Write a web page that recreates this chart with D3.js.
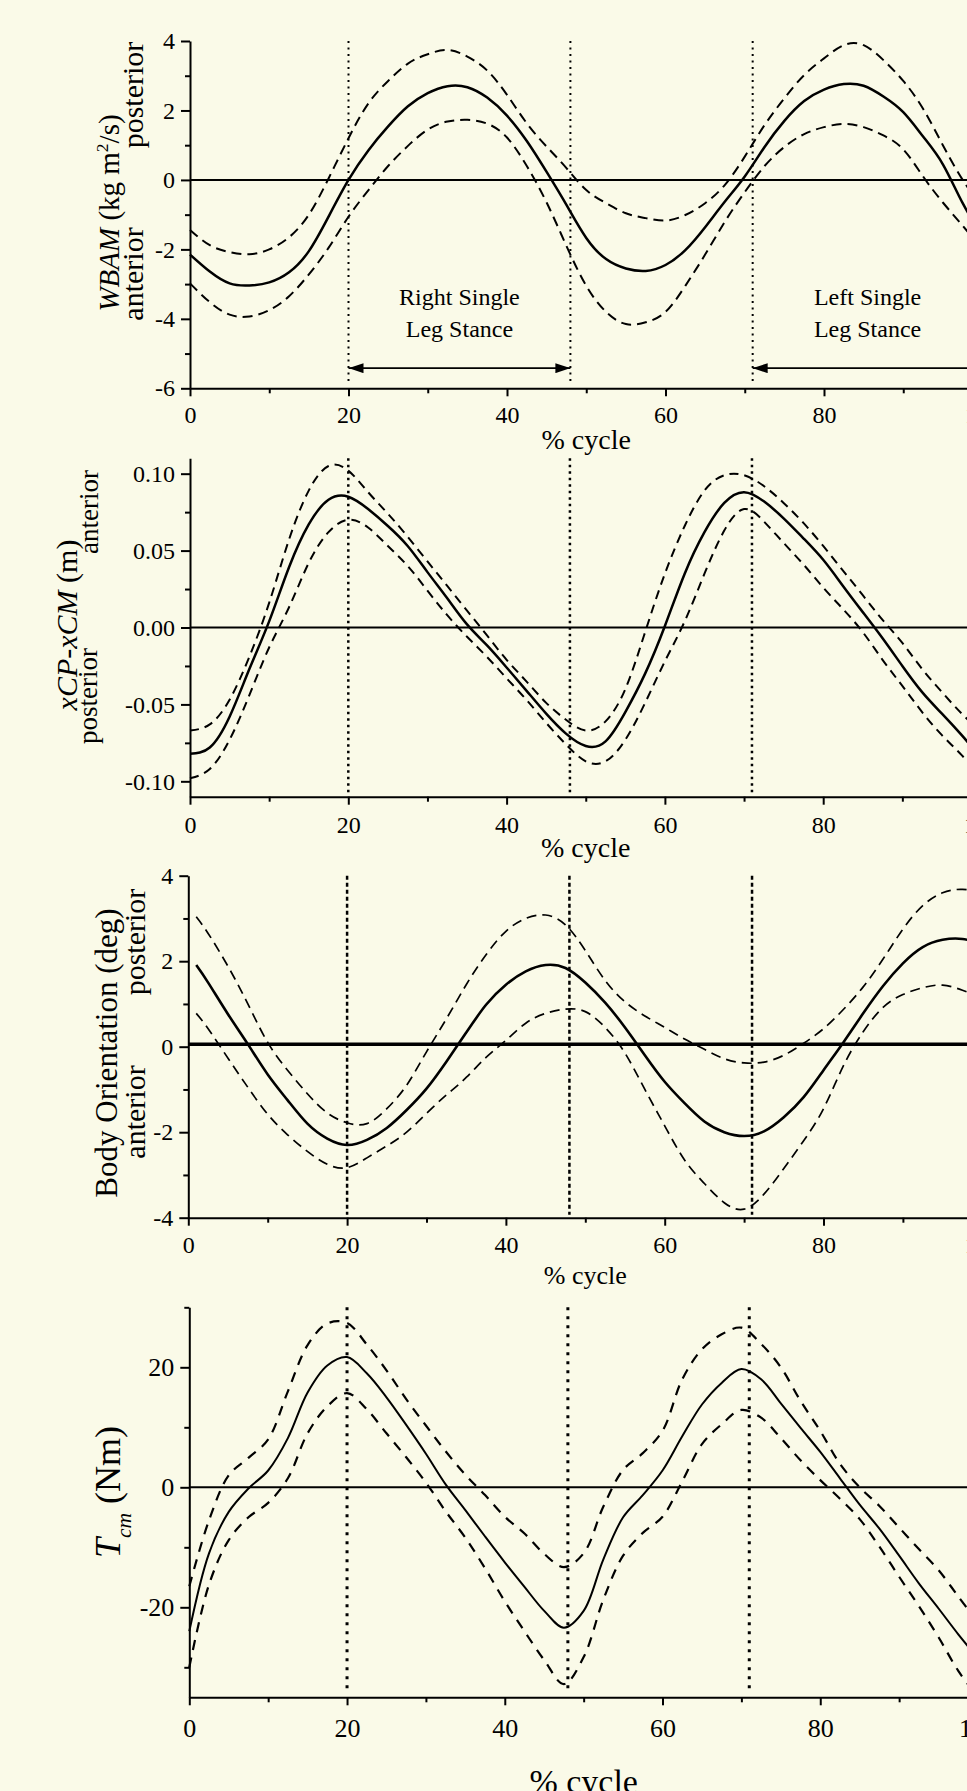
<!DOCTYPE html>
<html>
<head>
<meta charset="utf-8">
<title>Gait cycle: WBAM, xCP-xCM, body orientation, Tcm</title>
<script src="https://cdn.jsdelivr.net/npm/d3@7"></script>
<style>
  html, body { margin: 0; padding: 0; background: #fafae8; }
  svg { display: block; }
  text { font-family: "Liberation Serif", "Times New Roman", serif; fill: #000; }
</style>
</head>
<body>
<main></main>
<script>
// Data (x = % of gait cycle)
const cyclePct = [0, 2.5, 5, 7.5, 10, 12.5, 15, 17.5, 20, 22.5, 25, 27.5, 30, 32.5, 35, 37.5, 40, 42.5, 45, 47.5, 50,
    52.5, 55, 57.5, 60, 62.5, 65, 67.5, 70, 72.5, 75, 77.5, 80, 82.5, 85, 87.5, 90, 92.5, 95, 97.5, 100]
const orientCycle = [1, 2.5, 5, 7.5, 10, 12.5, 15, 17.5, 20, 22.5, 25, 27.5, 30, 32.5, 35, 37.5, 40, 42.5, 45, 47.5, 50,
    52.5, 55, 57.5, 60, 62.5, 65, 67.5, 70, 72.5, 75, 77.5, 80, 82.5, 85, 87.5, 90, 92.5, 95, 97.5, 100]

// WBAM (kg m2/s): mean, mean+SD, mean-SD
const wbamMean = [-2.15, -2.64, -2.98, -3.04, -2.95, -2.66, -2.05, -1.05, 0.0, 0.85, 1.54, 2.12, 2.5, 2.7, 2.67, 2.37, 1.85,
    1.12, 0.23, -0.72, -1.67, -2.28, -2.55, -2.62, -2.45, -2.02, -1.36, -0.62, 0.1, 0.95, 1.7, 2.27, 2.6, 2.76, 2.71,
    2.4, 1.95, 1.25, 0.45, -0.67, -1.6]
const wbamUpper = [-1.44, -1.88, -2.08, -2.14, -2.0, -1.65, -1.0, 0.05, 1.2, 2.2, 2.85, 3.35, 3.62, 3.74, 3.55, 3.15, 2.45,
    1.63, 0.96, 0.34, -0.29, -0.67, -0.96, -1.1, -1.17, -1.01, -0.67, -0.14, 0.67, 1.58, 2.35, 3.02, 3.5, 3.88, 3.88,
    3.45, 2.85, 2.05, 1.0, 0.0, -0.8]
const wbamLower = [-2.98, -3.52, -3.88, -3.93, -3.75, -3.35, -2.72, -1.95, -1.06, -0.3, 0.4, 0.98, 1.45, 1.68, 1.73, 1.62,
    1.22, 0.4, -0.65, -1.9, -3.05, -3.8, -4.15, -4.1, -3.8, -3.05, -2.15, -1.2, -0.35, 0.4, 0.95, 1.32, 1.52, 1.61, 1.52,
    1.28, 0.88, 0.1, -0.65, -1.32, -2.0]

// xCP - xCM (m)
const xcpMean = [-0.082, -0.078, -0.058, -0.027, 0.004, 0.039, 0.067, 0.083, 0.085, 0.077, 0.066, 0.053, 0.036, 0.019,
    0.002, -0.0115, -0.026, -0.041, -0.056, -0.069, -0.077, -0.074, -0.055, -0.030, 0.001, 0.035, 0.062, 0.081, 0.088,
    0.082, 0.071, 0.058, 0.044, 0.027, 0.010, -0.007, -0.025, -0.042, -0.056, -0.070, -0.085]
const xcpUpper = [-0.067, -0.063, -0.047, -0.019, 0.016, 0.057, 0.089, 0.105, 0.102, 0.088, 0.074, 0.059, 0.043, 0.027,
    0.011, -0.005, -0.021, -0.035, -0.049, -0.060, -0.067, -0.061, -0.040, -0.003, 0.035, 0.066, 0.089, 0.099, 0.099,
    0.092, 0.081, 0.068, 0.053, 0.037, 0.021, 0.005, -0.010, -0.027, -0.042, -0.056, -0.068]
const xcpLower = [-0.098, -0.092, -0.073, -0.044, -0.013, 0.013, 0.042, 0.062, 0.070, 0.065, 0.053, 0.040, 0.024, 0.008,
    -0.006, -0.019, -0.033, -0.047, -0.062, -0.076, -0.087, -0.087, -0.073, -0.049, -0.022, 0.004, 0.035, 0.063, 0.077,
    0.069, 0.055, 0.041, 0.026, 0.012, -0.003, -0.021, -0.038, -0.055, -0.070, -0.083, -0.098]

// Body orientation (deg)
const orientMean = [1.91, 1.5, 0.76, 0.06, -0.65, -1.25, -1.8, -2.15, -2.3, -2.18, -1.9, -1.48, -0.98, -0.35, 0.33, 0.98,
    1.45, 1.76, 1.91, 1.84, 1.5, 1.03, 0.45, -0.2, -0.82, -1.32, -1.75, -2.0, -2.09, -1.98, -1.65, -1.18, -0.55, 0.1, 0.78,
    1.42, 1.95, 2.33, 2.5, 2.52, 2.4]
const orientUpper = [3.04, 2.65, 1.88, 1.0, 0.1, -0.55, -1.1, -1.55, -1.78, -1.8, -1.45, -0.9, -0.12, 0.65, 1.45, 2.15,
    2.7, 3.0, 3.08, 2.85, 2.25, 1.55, 1.05, 0.72, 0.45, 0.18, -0.06, -0.28, -0.38, -0.36, -0.2, 0.08, 0.42, 0.87, 1.4,
    2.05, 2.75, 3.3, 3.6, 3.68, 3.6]
const orientLower = [0.78, 0.42, -0.27, -0.95, -1.58, -2.06, -2.45, -2.75, -2.83, -2.6, -2.32, -2.0, -1.56, -1.13, -0.72,
    -0.25, 0.15, 0.55, 0.78, 0.88, 0.82, 0.45, -0.15, -1.0, -1.85, -2.65, -3.2, -3.65, -3.8, -3.45, -2.85, -2.2, -1.45,
    -0.45, 0.35, 0.92, 1.22, 1.38, 1.44, 1.32, 1.15]

// Tcm (Nm)
const tcmMean = [-24, -11, -4.1, -0.2, 2.8, 8.2, 15.8, 20.3, 21.7, 19.0, 15.0, 10.4, 5.6, 0.5, -3.8, -8.2, -12.5, -16.6,
    -20.6, -23.4, -20.6, -12.0, -5.0, -1.3, 2.8, 8.5, 13.8, 17.4, 19.7, 18.0, 14.0, 9.9, 5.9, 1.5, -2.9, -6.9, -11.4,
    -16.0, -20.2, -24.5, -28.5]
const tcmUpper = [-16.5, -5.5, 2.0, 4.9, 8.0, 16.0, 23.7, 27.3, 27.4, 23.8, 19.5, 14.7, 10.3, 6.0, 2.1, -1.3, -4.9, -7.7,
    -11.1, -13.3, -11.0, -3.2, 2.9, 5.7, 9.4, 18.0, 23.0, 25.5, 26.6, 23.9, 20.0, 14.4, 9.4, 3.9, 0.0, -3.1, -6.7, -10.3,
    -13.8, -18.2, -22.5]
const tcmLower = [-30, -16.2, -8.8, -5.0, -2.6, 1.5, 9.0, 13.5, 15.7, 13.0, 9.0, 5.0, 0.8, -4.0, -8.4, -13.5, -19.0,
    -24.0, -28.8, -32.8, -28.3, -18.7, -11.4, -7.6, -4.9, 1.0, 7.2, 10.5, 12.9, 11.6, 8.2, 4.5, 1.2, -1.9, -5.3, -9.9,
    -14.9, -19.8, -25.0, -30.6, -35]

// Gait events and stance annotations
const events = [20, 48, 71]
const stanceStart = [20, 71]
const stanceEnd = [48, 100]
const stanceText = [['Right Single', 'Leg Stance'], ['Left Single', 'Leg Stance']]

// Ticks
const xTicks = [0, 20, 40, 60, 80, 100]
const xMinor = [10, 30, 50, 70, 90]
const wbamTicks = [-6, -4, -2, 0, 2, 4]
const wbamMinor = [-5, -3, -1, 1, 3]
const xcpTicks = [-0.10, -0.05, 0, 0.05, 0.10]
const xcpMinor = [-0.075, -0.025, 0.025, 0.075]
const orientTicks = [-4, -2, 0, 2, 4]
const orientMinor = [-3, -1, 1, 3]
const tcmTicks = [-20, 0, 20]
const tcmMinor = [-30, -10, 10, 30]

function GeneratePlot() {
    const width = 967
    const height = 1791
    const zip = (xs, ys) => xs.map((v, i) => [v, ys[i]])

    const svg = d3.select('main')
        .append('svg')
        .attr('width', width)
        .attr('height', height)

    svg.append('rect')
        .attr('width', width)
        .attr('height', height)
        .attr('fill', '#fafae8')

    const defs = svg.append('defs')
    defs.append('marker')
        .attr('id', 'head')
        .attr('markerUnits', 'userSpaceOnUse')
        .attr('markerWidth', 15)
        .attr('markerHeight', 10)
        .attr('refX', 15)
        .attr('refY', 5)
        .attr('orient', 'auto-start-reverse')
        .append('path')
        .attr('d', 'M0,0 L15,5 L0,10 Z')
        .attr('fill', '#000')

    const panels = [
        {
            xRange: [190, 982.5], yDomain: [-6, 4], yRange: [388.3, 41],
            x: cyclePct, mean: wbamMean, upper: wbamUpper, lower: wbamLower,
            ticks: wbamTicks, minor: wbamMinor, fmt: d => String(d), curve: d3.curveNatural,
            zero: 0, zeroWidth: 2, solidWidth: 2.5, dashWidth: 2, dash: '10,6',
            eventDash: '2,4.5', eventWidth: 2,
            tickFont: 24, xPad: 10, title: { size: 28, y: 448.5 },
            labels: [
                { x: 119, y: 213, size: 29, parts: [{ t: 'WBAM', i: true }, { t: ' (kg m' }, { t: '2', sup: true }, { t: '/s)' }] },
                { x: 143, y: 95, size: 30, parts: [{ t: 'posterior' }] },
                { x: 143, y: 274, size: 30, parts: [{ t: 'anterior' }] }
            ],
            stance: true
        },
        {
            xRange: [190, 981.5], yDomain: [-0.11, 0.11], yRange: [796.7, 458.3],
            x: cyclePct, mean: xcpMean, upper: xcpUpper, lower: xcpLower,
            ticks: xcpTicks, minor: xcpMinor, fmt: d => d.toFixed(2), curve: d3.curveNatural,
            zero: 0, zeroWidth: 2, solidWidth: 2.5, dashWidth: 2, dash: '9,6',
            eventDash: '2.5,4', eventWidth: 2.5,
            tickFont: 24, xPad: 11.5, title: { size: 28, y: 856.5 },
            labels: [
                { x: 77, y: 625, size: 30, parts: [{ t: 'xCP-xCM', i: true }, { t: ' (m)' }] },
                { x: 98, y: 512, size: 27, parts: [{ t: 'anterior' }] },
                { x: 97, y: 696, size: 27, parts: [{ t: 'posterior' }] }
            ]
        },
        {
            xRange: [188.3, 982.3], yDomain: [-4, 4], yRange: [1217.7, 875.7],
            x: orientCycle, mean: orientMean, upper: orientUpper, lower: orientLower,
            ticks: orientTicks, minor: orientMinor, fmt: d => String(d), curve: d3.curveNatural,
            zero: 0.06, zeroWidth: 3.5, solidWidth: 2.6, dashWidth: 1.7, dash: '10,6',
            eventDash: '4,3', eventWidth: 2.5,
            tickFont: 24, xPad: 10, title: { size: 26, y: 1284 },
            labels: [
                { x: 117, y: 1053, size: 31, parts: [{ t: 'Body Orientation (deg)' }] },
                { x: 145, y: 942, size: 30, parts: [{ t: 'posterior' }] },
                { x: 145, y: 1112, size: 30, parts: [{ t: 'anterior' }] }
            ]
        },
        {
            xRange: [189.3, 978], yDomain: [-35, 30], yRange: [1697.3, 1307.3],
            x: cyclePct, mean: tcmMean, upper: tcmUpper, lower: tcmLower,
            ticks: tcmTicks, minor: tcmMinor, fmt: d => String(d), curve: d3.curveCatmullRom.alpha(0.5),
            zero: 0, zeroWidth: 2, solidWidth: 2, dashWidth: 2.2, dash: '10,8',
            eventDash: '3,6', eventWidth: 3,
            tickFont: 26, xPad: 13.5, title: { size: 34, y: 1793 },
            labels: [
                { x: 120, y: 1492, size: 36, parts: [{ t: 'T', i: true }, { t: 'cm', i: true, sub: true }, { t: ' (Nm)' }] }
            ]
        }
    ]

    panels.forEach(p => {
        const x = d3.scaleLinear().domain([0, 100]).range(p.xRange)
        const y = d3.scaleLinear().domain(p.yDomain).range(p.yRange)
        const g = svg.append('g')

        // zero line
        g.append('line')
            .attr('x1', x(0)).attr('x2', x(100))
            .attr('y1', y(p.zero)).attr('y2', y(p.zero))
            .attr('stroke', '#000').attr('stroke-width', p.zeroWidth)

        // gait events
        g.selectAll('line.event')
            .data(events)
            .join('line')
            .attr('class', 'event')
            .attr('x1', d => x(d)).attr('x2', d => x(d))
            .attr('y1', p.yRange[1]).attr('y2', p.yRange[0] - 3)
            .attr('stroke', '#000')
            .attr('stroke-width', p.eventWidth)
            .attr('stroke-dasharray', p.eventDash)

        // curves
        const line = d3.line()
            .x(d => x(d[0]))
            .y(d => y(d[1]))
            .curve(p.curve)

        const series = [
            { v: p.upper, dash: p.dash, w: p.dashWidth },
            { v: p.lower, dash: p.dash, w: p.dashWidth },
            { v: p.mean, dash: null, w: p.solidWidth }
        ]
        series.forEach(s => {
            g.append('path')
                .datum(zip(p.x, s.v))
                .attr('d', line)
                .attr('fill', 'none')
                .attr('stroke', '#000')
                .attr('stroke-width', s.w)
                .attr('stroke-dasharray', s.dash)
        })

        // y axis
        const yAxis = g.append('g')
            .attr('transform', `translate(${x(0)},0)`)
            .call(d3.axisLeft(y).tickValues(p.ticks).tickSize(9).tickPadding(6).tickSizeOuter(0).tickFormat(p.fmt))
        g.append('g')
            .attr('transform', `translate(${x(0)},0)`)
            .call(d3.axisLeft(y).tickValues(p.minor).tickSize(5).tickFormat(''))
            .call(a => a.select('.domain').remove())

        // x axis
        const xAxis = g.append('g')
            .attr('transform', `translate(0,${p.yRange[0]})`)
            .call(d3.axisBottom(x).tickValues(xTicks).tickSize(8).tickPadding(p.xPad).tickSizeOuter(0).tickFormat(d => String(d)))
        g.append('g')
            .attr('transform', `translate(0,${p.yRange[0]})`)
            .call(d3.axisBottom(x).tickValues(xMinor).tickSize(5).tickFormat(''))
            .call(a => a.select('.domain').remove())

        g.selectAll('.domain, .tick line').attr('stroke', '#000').attr('stroke-width', 2)
        ;[yAxis, xAxis].forEach(a => a.selectAll('text')
            .attr('font-family', '"Liberation Serif", "Times New Roman", serif')
            .attr('font-size', p.tickFont)
            .attr('fill', '#000'))

        // x title
        g.append('text')
            .attr('x', x(50))
            .attr('y', p.title.y)
            .attr('text-anchor', 'middle')
            .attr('font-size', p.title.size)
            .text('% cycle')

        // y labels
        p.labels.forEach(l => {
            const t = g.append('text')
                .attr('transform', `translate(${l.x},${l.y}) rotate(-90)`)
                .attr('text-anchor', 'middle')
                .attr('font-size', l.size)
            l.parts.forEach(part => {
                const span = t.append('tspan').text(part.t)
                if (part.i) span.attr('font-style', 'italic')
                if (part.sup) span.attr('font-size', l.size * 0.6).attr('dy', -l.size * 0.38)
                if (part.sub) span.attr('font-size', l.size * 0.6).attr('dy', l.size * 0.3)
            })
            // restore baseline after super/subscripts
            l.parts.forEach((part, i) => {
                if ((part.sup || part.sub) && i + 1 < l.parts.length) {
                    t.selectAll('tspan').filter((d, j) => j === i + 1)
                        .attr('dy', part.sup ? l.size * 0.38 : -l.size * 0.3)
                }
            })
        })

        // stance arrows and captions
        if (p.stance) {
            const arrowY = y(-5.42)
            stanceStart.forEach((s, i) => {
                g.append('line')
                    .attr('x1', x(s)).attr('x2', x(stanceEnd[i]))
                    .attr('y1', arrowY).attr('y2', arrowY)
                    .attr('stroke', '#000').attr('stroke-width', 1.6)
                    .attr('marker-start', 'url(#head)')
                    .attr('marker-end', 'url(#head)')
                const cx = x((s + stanceEnd[i]) / 2)
                const cap = g.append('text')
                    .attr('text-anchor', 'middle')
                    .attr('font-size', 24)
                cap.append('tspan').attr('x', cx).attr('y', y(-3.59)).text(stanceText[i][0])
                cap.append('tspan').attr('x', cx).attr('y', y(-4.51)).text(stanceText[i][1])
            })
        }
    })
}

GeneratePlot()
</script>
</body>
</html>
